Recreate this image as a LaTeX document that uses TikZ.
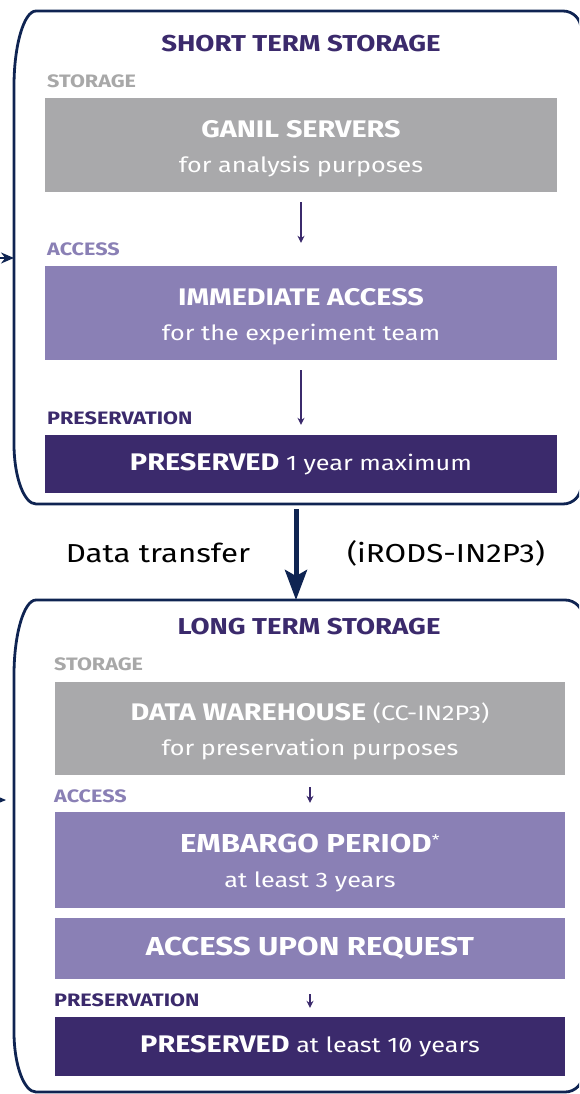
\documentclass[tikz,border=0pt]{standalone}
\usepackage{fontspec}
\setmainfont{Fira Sans}[FakeStretch=1.2]
\usetikzlibrary{positioning,arrows.meta}

\definecolor{framenavy}{HTML}{0F2452}
\definecolor{deeppurple}{HTML}{3B2A6C}
\definecolor{midpurple}{HTML}{8A80B5}
\definecolor{stonegray}{HTML}{A9A9AB}
\definecolor{labelgray}{HTML}{A8A8A8}

\newcommand{\boxhead}[1]{{\fontsize{24}{35}\selectfont\bfseries #1}}
\newcommand{\boxheadbig}[1]{{\fontsize{26}{35}\selectfont\bfseries #1}}

\begin{document}
\begin{tikzpicture}[x=1pt,y=-1pt,
	frame/.style={draw=framenavy,line width=2.8pt},
	frametitle/.style={text=deeppurple,font=\fontsize{23}{26}\selectfont\bfseries},
	tier/.style={anchor=west,inner sep=0pt,font=\fontsize{18}{20}\selectfont\bfseries},
	box/.style={rectangle,inner sep=0pt,minimum width=512pt,text=white,align=center,
		font=\fontsize{21}{35}\selectfont},
	flow/.style={deeppurple,line width=1.3pt,-{Stealth[length=7pt,width=7pt]}},
	transfer/.style={framenavy,line width=5pt,-{Stealth[length=30pt,width=22pt,inset=6pt]}},
	inflow/.style={framenavy,line width=2pt,-{Stealth[length=13pt,width=11pt]}}
]
	\clip (0,0) rectangle (579,1094);

	% short term storage
	\draw[frame] (36,11) -- (563,11) .. controls (573,11) and (581,19) .. (581,29)
		-- (581,486) .. controls (581,496) and (573,504) .. (563,504)
		-- (36,504) .. controls (24,504) and (14,477) .. (14,444)
		-- (14,86) .. controls (14,45) and (24,11) .. (36,11) -- cycle;
	\node[frametitle] (st-title) at (301,44) {SHORT TERM STORAGE};

	\node[tier,text=labelgray] (st-storage) at (47,81) {STORAGE};
	\node[box,fill=stonegray,minimum height=94pt,text height=60pt] (ganil) at (301,145)
		{\boxhead{GANIL SERVERS}\\for analysis purposes};

	\node[tier,text=midpurple] (st-access) at (47,249) {ACCESS};
	\node[box,fill=midpurple,minimum height=94pt,text height=60pt] (immediate) at (301,313)
		{\boxhead{IMMEDIATE ACCESS}\\for the experiment team};

	\node[tier,text=deeppurple] (st-preservation) at (47,418) {PRESERVATION};
	\node[box,fill=deeppurple,minimum height=58pt] (oneyear) at (301,464)
		{\boxhead{PRESERVED} 1 year maximum};

	\draw[flow] ([yshift=-10pt]ganil.south) -- ([yshift=23pt]immediate.north);
	\draw[flow] ([yshift=-10pt]immediate.south) -- ([yshift=10pt]oneyear.north);

	\coordinate (st-src) at (-20,258);
	\coordinate (st-in) at (14,258);
	\draw[inflow] (st-src) -- (st-in);

	% data transfer
	\coordinate (xfer-start) at (296,509);
	\coordinate (lt-top) at (296,600);
	\draw[transfer] (xfer-start) -- (lt-top);
	\node[font=\fontsize{26}{30}\selectfont] (xfer-label) at (158,553) {Data transfer};
	\node[font=\fontsize{26}{30}\selectfont] (xfer-tool) at (446,553) {(iRODS-IN2P3)};

	% long term storage
	\draw[frame] (36,600) -- (565,600) .. controls (575,600) and (583,608) .. (583,618)
		-- (583,1074) .. controls (583,1084) and (575,1092) .. (565,1092)
		-- (36,1092) .. controls (24,1092) and (14,1065) .. (14,1032)
		-- (14,675) .. controls (14,634) and (24,600) .. (36,600) -- cycle;
	\node[frametitle] (lt-title) at (309,627) {LONG TERM STORAGE};

	\node[tier,text=labelgray] (lt-storage) at (54,664) {STORAGE};
	\node[box,fill=stonegray,minimum width=510pt,minimum height=93pt,text height=58pt] (warehouse) at (310,728.5)
		{\boxhead{DATA WAREHOUSE} (CC-IN2P3)\\for preservation purposes};

	\node[tier,text=midpurple] (lt-access) at (54,796) {ACCESS};
	\node[box,fill=midpurple,minimum width=510pt,minimum height=96pt,text height=60pt] (embargo) at (310,860)
		{\boxheadbig{EMBARGO PERIOD}\textsuperscript{*}\\at least 3 years};
	\node[box,fill=midpurple,minimum width=510pt,minimum height=61pt] (request) at (310,948.5)
		{\boxheadbig{ACCESS UPON REQUEST}};

	\node[tier,text=deeppurple] (lt-preservation) at (54,1000) {PRESERVATION};
	\node[box,fill=deeppurple,minimum width=510pt,minimum height=59pt] (tenyears) at (310,1046.5)
		{\boxhead{PRESERVED} at least 1{\addfontfeature{Numbers=SlashedZero}0} years};

	\draw[flow] ([yshift=-12pt]warehouse.south) -- ([yshift=9pt]embargo.north);
	\draw[flow] ([yshift=-15pt]request.south) -- ([yshift=9pt]tenyears.north);

	\coordinate (lt-src) at (-20,800);
	\coordinate (lt-in) at (6,800);
	\draw[inflow,line width=1.5pt] (lt-src) -- (lt-in);
\end{tikzpicture}
\end{document}
